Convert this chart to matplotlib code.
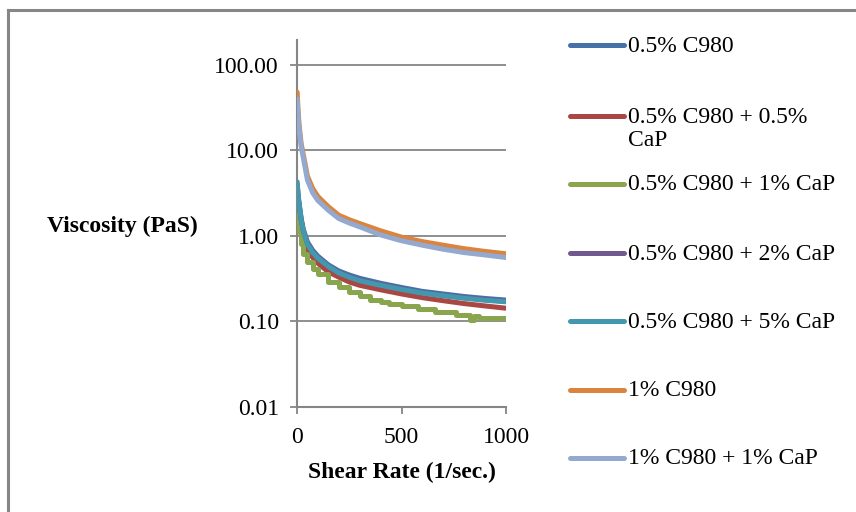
import matplotlib
matplotlib.use('Agg')
import matplotlib.pyplot as plt
from matplotlib.lines import Line2D

plt.rcParams['font.family'] = ['Liberation Serif', 'DejaVu Serif']

# shear rate points (1/sec.)
rate = [1, 5, 10, 20, 30, 50, 75, 100, 150, 200, 250, 300, 400, 500, 600, 700, 800, 900, 1000]

c980_05 = [4.0, 3.0, 2.4, 1.6, 1.2, 0.85, 0.68, 0.58, 0.46, 0.39, 0.35, 0.32, 0.28, 0.25, 0.225, 0.21, 0.196, 0.186, 0.178]
c980_05_cap05 = [2.6, 2.1, 1.7, 1.2, 0.95, 0.7, 0.56, 0.48, 0.38, 0.33, 0.29, 0.265, 0.235, 0.21, 0.19, 0.175, 0.162, 0.152, 0.143]
c980_05_cap2 = [3.9, 2.9, 2.3, 1.55, 1.15, 0.82, 0.65, 0.56, 0.44, 0.375, 0.335, 0.305, 0.27, 0.24, 0.217, 0.202, 0.19, 0.18, 0.172]
c980_05_cap5 = [4.3, 3.1, 2.4, 1.55, 1.15, 0.8, 0.64, 0.55, 0.44, 0.37, 0.33, 0.30, 0.265, 0.237, 0.215, 0.2, 0.187, 0.177, 0.17]
c980_1 = [48, 30, 20, 12, 9.0, 5.0, 3.6, 2.9, 2.2, 1.75, 1.55, 1.4, 1.15, 0.97, 0.86, 0.78, 0.71, 0.66, 0.62]
c980_1_cap1 = [40, 27, 18, 11, 8.3, 4.5, 3.2, 2.6, 2.0, 1.6, 1.42, 1.28, 1.03, 0.88, 0.78, 0.7, 0.64, 0.6, 0.56]

# 1% CaP series is recorded with coarse resolution -> stair steps
rate_green = [1, 5, 10, 20, 30, 50, 75, 100, 150, 200, 250, 300, 350, 400, 440, 500, 580, 660, 760, 830, 845, 870, 1000]
c980_05_cap1 = [2.0, 1.5, 1.1, 0.8, 0.62, 0.5, 0.41, 0.36, 0.29, 0.25, 0.22, 0.2, 0.18, 0.17, 0.16, 0.15, 0.14, 0.13, 0.12, 0.105, 0.115, 0.11, 0.11]

labels = ['0.5% C980', '0.5% C980 + 0.5%\nCaP', '0.5% C980 + 1% CaP', '0.5% C980 + 2% CaP',
          '0.5% C980 + 5% CaP', '1% C980', '1% C980 + 1% CaP']
colors = ['#4572A7', '#AA4643', '#89A54E', '#71588F', '#4198AF', '#DB843D', '#93A9CF']

yticks = [0.01, 0.1, 1, 10, 100]
xticks = [0, 500, 1000]

gray = '#868686'
fs = 17

fig = plt.figure(figsize=(8.56, 5.12), dpi=100)
ax = fig.add_axes([297/856, 1-407/512, 209/856, 367/512])

series = [(rate, c980_05, None), (rate, c980_05_cap05, None), (rate_green, c980_05_cap1, 'steps-post'),
          (rate, c980_05_cap2, None), (rate, c980_05_cap5, None), (rate, c980_1, None), (rate, c980_1_cap1, None)]
for (x, y, ds), col in zip(series, colors):
    if ds:
        ax.plot(x, y, color=col, lw=3.6, drawstyle=ds, solid_joinstyle='round', solid_capstyle='round', zorder=3)
    else:
        ax.plot(x, y, color=col, lw=3.6, solid_joinstyle='round', solid_capstyle='round', zorder=3)

ax.set_yscale('log')
ax.set_ylim(0.01, 196)
ax.set_xlim(0, 1000)
ax.set_yticks(yticks)
ax.set_yticklabels(['%.2f' % v for v in yticks])
ax.yaxis.set_minor_locator(matplotlib.ticker.NullLocator())
ax.set_xticks(xticks)
ax.grid(axis='y', color=gray, lw=1.3, zorder=0)
for s in ['top', 'right']:
    ax.spines[s].set_visible(False)
for s in ['left', 'bottom']:
    ax.spines[s].set_color(gray)
    ax.spines[s].set_linewidth(1.5)
ax.tick_params(axis='both', colors=gray, length=5, width=1.3, labelcolor='black', labelsize=fs)
ax.tick_params(axis='x', pad=9.5)
ax.tick_params(axis='y', pad=8)

ax.set_xlabel('Shear Rate (1/sec.)', fontsize=fs, fontweight='bold', labelpad=10)
fig.text(122/856, 1-226/512, 'Viscosity (PaS)', fontsize=fs, fontweight='bold', ha='center', va='center')

# legend, one entry per series, evenly spaced like the original
leg_y = [45, 116, 184, 253, 321, 390, 458]
for lab, col, yy in zip(labels, colors, leg_y):
    fy = 1 - yy/512
    fig.add_artist(Line2D([570/856, 624/856], [fy, fy], color=col, lw=3.6, solid_capstyle='round'))
    if '\n' in lab:
        fig.text(628/856, 1 - (yy - 9)/512, lab, fontsize=fs, ha='left', va='top', linespacing=1.15)
    else:
        fig.text(628/856, 1 - (yy + 1)/512, lab, fontsize=fs, ha='left', va='center')

# chart frame (only top and left edge visible)
fig.add_artist(Line2D([8/856, 1], [1-10/512, 1-10/512], color=gray, lw=2.2))
fig.add_artist(Line2D([8/856, 8/856], [0, 1-10/512], color=gray, lw=2.2))

fig.savefig('out.png', dpi=100)
